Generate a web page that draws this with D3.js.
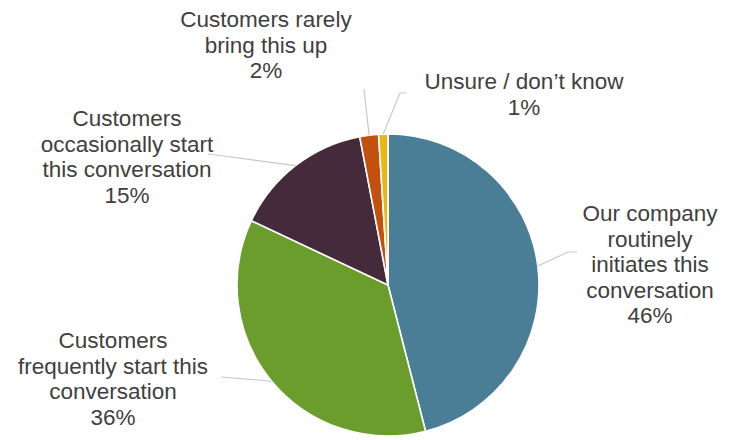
<!DOCTYPE html>
<html>
<head>
<meta charset="utf-8">
<script src="https://cdn.jsdelivr.net/npm/d3@7"></script>
<style>
  html, body { margin: 0; padding: 0; background: #fff; }
  svg { display: block; }
  text { font-family: "Liberation Sans", Arial, sans-serif; fill: #404040; }
</style>
</head>
<body>
<svg id="chart" width="734" height="440"></svg>
<script>
// Who starts the conversation — share of responses
const categories = [
  "Our company routinely initiates this conversation",
  "Customers frequently start this conversation",
  "Customers occasionally start this conversation",
  "Customers rarely bring this up",
  "Unsure / don\u2019t know"
];
const values = [46, 36, 15, 2, 1];
const labelLines = [
  ["Our company", "routinely", "initiates this", "conversation"],
  ["Customers", "frequently start this", "conversation"],
  ["Customers", "occasionally start", "this conversation"],
  ["Customers rarely", "bring this up"],
  ["Unsure / don\u2019t know"]
];
const colors = ["#4A7E96", "#6A9D2C", "#442A3A", "#C3500C", "#E8B81A"];

// label placement: centre x, first baseline, and leader end points
const labelPos = [
  { x: 650, y: 221, leader: [[568, 252], [577, 252]] },
  { x: 113, y: 348, leader: [[221, 377]] },
  { x: 127, y: 126, leader: [[208, 154]] },
  { x: 266, y: 27,  leader: [[364, 89]] },
  { x: 524, y: 89,  leader: [[400, 93], [406, 93]] }
];

const cx = 388, cy = 285, radius = 151, lineH = 25.6;

const svg = d3.select("#chart");
const g = svg.append("g").attr("transform", `translate(${cx},${cy})`);

const pie = d3.pie().sort(null).value(d => d);
const arcs = pie(values);
const arc = d3.arc().innerRadius(0).outerRadius(radius);

g.selectAll("path.slice")
  .data(arcs)
  .join("path")
  .attr("class", "slice")
  .attr("d", arc)
  .attr("fill", (d, i) => colors[i])
  .attr("stroke", "#fff")
  .attr("stroke-width", 1.6)
  .attr("stroke-linejoin", "round");

// leader lines from the slice edge at its mid angle
arcs.forEach((d, i) => {
  const a = (d.startAngle + d.endAngle) / 2;
  const p0 = [cx + radius * Math.sin(a), cy - radius * Math.cos(a)];
  const pts = [p0, ...labelPos[i].leader].reverse();
  svg.append("path")
    .attr("d", d3.line()(pts))
    .attr("fill", "none")
    .attr("stroke", "#C8C8C8")
    .attr("stroke-width", 1.2);
});

// labels: category lines followed by the percentage
arcs.forEach((d, i) => {
  const lines = [...labelLines[i], d3.format(".0f")(values[i]) + "%"];
  const t = svg.append("text")
    .attr("text-anchor", "middle")
    .attr("font-size", 22.5);
  lines.forEach((ln, k) => {
    t.append("tspan")
      .attr("x", labelPos[i].x)
      .attr("y", labelPos[i].y + k * lineH)
      .text(ln);
  });
});
</script>
</body>
</html>
